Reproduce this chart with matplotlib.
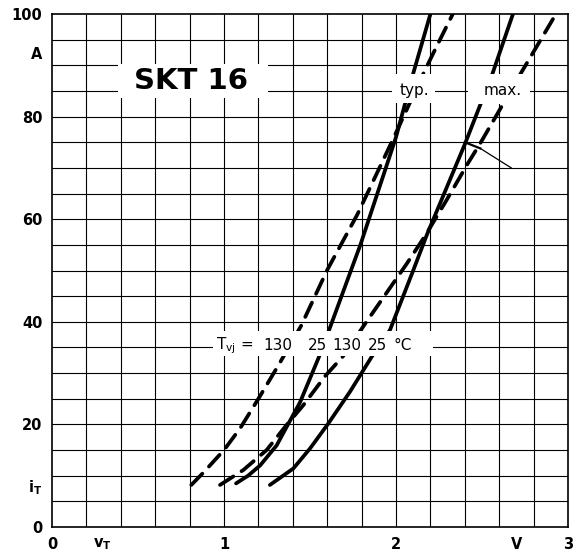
import numpy as np
import matplotlib.pyplot as plt
from matplotlib.patches import Rectangle

plt.rcParams['font.family'] = ['DejaVu Sans']

# on-state characteristics: voltage (V), current (A)
typ130_v = [0.81, 0.88, 1.00, 1.093, 1.20, 1.316, 1.448, 1.60, 1.775, 1.98, 2.165, 2.235, 2.33]
typ130_a = [8.2, 10.6, 15.0, 19.2, 25.0, 31.5, 39.2, 50.1, 60.9, 75.4, 88.8, 93.6, 100]

typ25_v = [1.07, 1.14, 1.21, 1.306, 1.364, 1.442, 1.549, 1.61, 1.795, 2.0, 2.10, 2.20]
typ25_a = [8.5, 10.0, 12.0, 15.9, 19.5, 24.3, 32.9, 38.3, 55.2, 76.0, 88.4, 100]

max130_v = [0.977, 1.112, 1.248, 1.364, 1.46, 1.59, 1.69, 1.82, 2.06, 2.17, 2.29, 2.42, 2.49,
            2.625, 2.725, 2.93]
max130_a = [8.2, 11.1, 15.0, 19.9, 23.7, 29.5, 33.2, 39.6, 51.2, 56.8, 63.5, 71.0, 74.8,
            82.6, 88.4, 100]

max25_v = [1.267, 1.403, 1.50, 1.607, 1.733, 1.859, 1.965, 2.10, 2.18, 2.40, 2.49, 2.555, 2.68]
max25_a = [8.2, 11.4, 15.3, 20.2, 26.4, 33.2, 38.4, 50.0, 57.0, 74.6, 82.3, 87.8, 100]

x_ticks = [0, 0.29, 1, 2, 2.7, 3]
x_labels = ['0', 'v$_\\mathregular{T}$', '1', '2', 'V', '3']
y_ticks = [0, 8.2, 20, 40, 60, 80, 92.4, 100]
y_labels = ['0', 'i$_\\mathregular{T}$', '20', '40', '60', '80', 'A', '100']

LW = 2.7
DASH = (0, (4.2, 2.6))


def main():
    fig = plt.figure(figsize=(5.81, 5.57), dpi=100)
    ax = fig.add_axes([52 / 581, 30 / 557, 516 / 581, 513 / 557])

    ax.set_xlim(0, 3)
    ax.set_ylim(0, 100)
    # 0.2 V x 5 A grid
    ax.vlines(np.arange(0.2, 3.0, 0.2), 0, 100, color='black', lw=0.8, zorder=1)
    ax.hlines(np.arange(5, 100, 5), 0, 3, color='black', lw=0.8, zorder=1)
    for s in ax.spines.values():
        s.set_linewidth(1.2)

    ax.set_xticks(x_ticks)
    ax.set_xticklabels(x_labels, fontsize=10.5, fontweight='bold')
    ax.set_yticks(y_ticks)
    ax.set_yticklabels(y_labels, fontsize=10.5, fontweight='bold')
    ax.tick_params(which='both', length=0, pad=7)

    kw = dict(color='black', lw=LW, zorder=2, solid_capstyle='round', dash_capstyle='round')
    ax.plot(typ130_v, typ130_a, ls=DASH, **kw)
    ax.plot(typ25_v, typ25_a, **kw)
    ax.plot(max130_v, max130_a, ls=DASH, **kw)
    ax.plot(max25_v, max25_a, **kw)

    # leader from the max. pair
    ax.plot([2.40, 2.49], [75.0, 73.8], color='black', lw=1.6, zorder=2)
    ax.plot([2.49, 2.67], [73.8, 70.0], color='black', lw=0.9, zorder=2)

    # white label boxes that break the grid and curves
    for x0, x1, y0, y1 in [(0.384, 1.256, 83.6, 90.3),
                           (1.975, 2.227, 82.6, 88.4),
                           (2.42, 2.78, 82.5, 88.4),
                           (0.936, 2.215, 33.3, 38.2)]:
        ax.add_patch(Rectangle((x0, y0), x1 - x0, y1 - y0, facecolor='white',
                               edgecolor='none', zorder=3))

    ax.text(0.81, 87.0, 'SKT 16', fontsize=21, fontweight='bold',
            ha='center', va='center', zorder=4)
    ax.text(2.105, 84.3, 'typ.', fontsize=11, ha='center', va='baseline', zorder=4)
    ax.text(2.62, 84.3, 'max.', fontsize=11, ha='center', va='baseline', zorder=4)

    base = 34.6
    ax.text(0.953, base, 'T$_\\mathregular{vj}$ =', fontsize=11, ha='left', va='baseline', zorder=4)
    for xc, s in [(1.311, '130'), (1.544, '25'), (1.715, '130'), (1.89, '25')]:
        ax.text(xc, base, s, fontsize=11, ha='center', va='baseline', zorder=4)
    ax.text(1.983, base, '°C', fontsize=11, ha='left', va='baseline', zorder=4)

    fig.savefig('out.png', dpi=100)


if __name__ == '__main__':
    main()
